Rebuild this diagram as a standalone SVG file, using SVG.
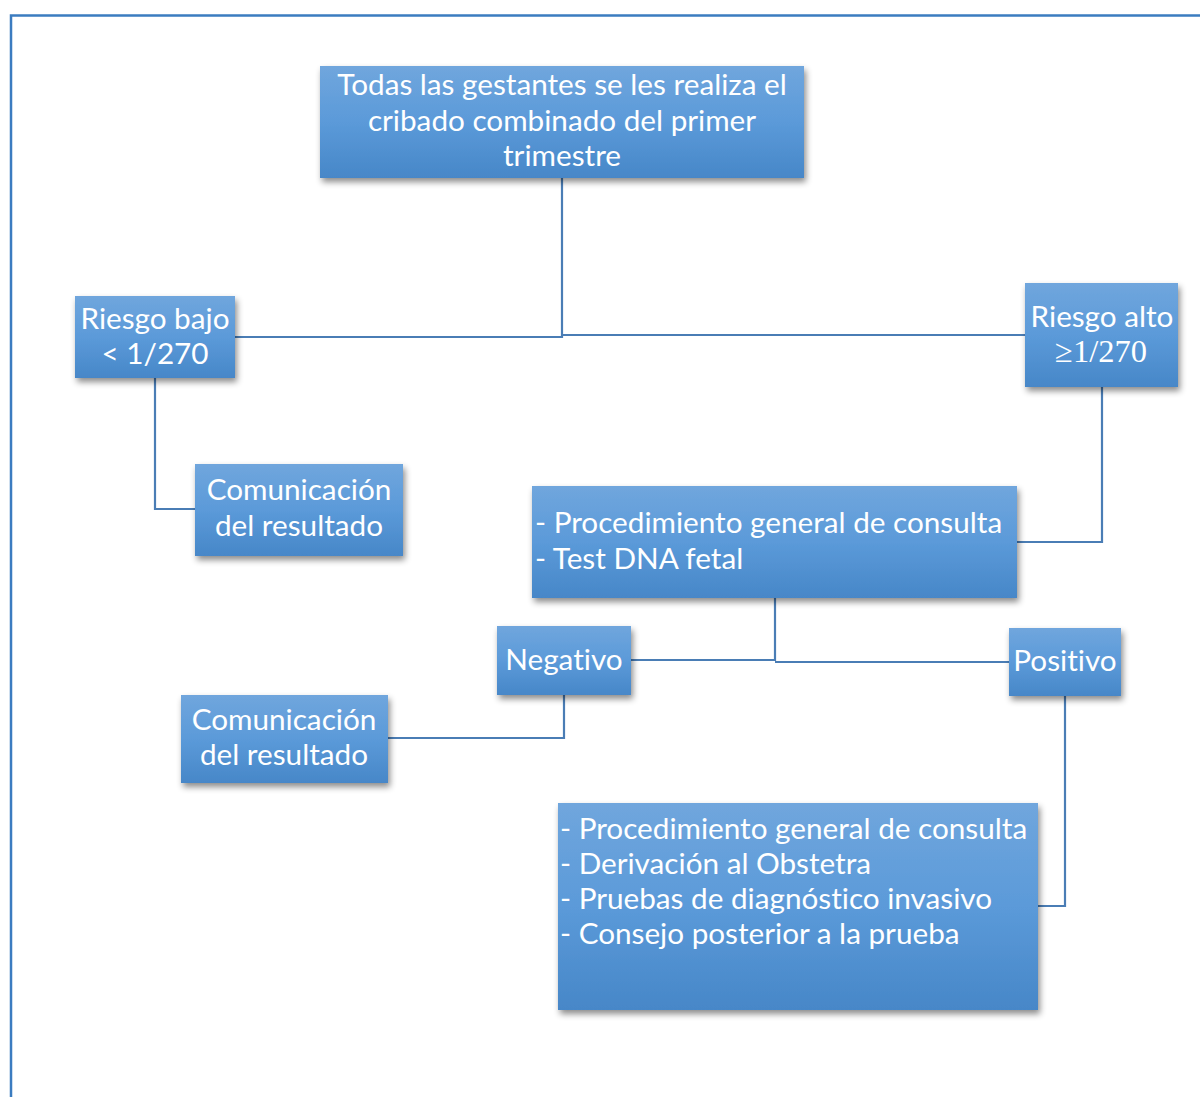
<svg xmlns="http://www.w3.org/2000/svg" width="1200" height="1097" viewBox="0 0 1200 1097">
<style>
.box{fill:url(#g);filter:url(#sh)}
.t{font-family:Lato,"Open Sans","Liberation Sans",sans-serif;font-size:29.7px;fill:#ffffff;font-variant-ligatures:none}
.s{font-family:"Liberation Serif","DejaVu Serif",serif;font-size:32.5px;fill:#ffffff}
.c{text-anchor:middle}
.ln{fill:none;stroke:#4a7db5;stroke-width:2.2}
</style>
<defs>
<linearGradient id="g" x1="0" y1="0" x2="0" y2="1">
<stop offset="0" stop-color="#70a6dd"/>
<stop offset="0.5" stop-color="#5b9ad9"/>
<stop offset="1" stop-color="#4787c8"/>
</linearGradient>
<filter id="sh" x="-10%" y="-10%" width="120%" height="130%">
<feDropShadow dx="2" dy="4" stdDeviation="3" flood-color="#000" flood-opacity="0.45"/>
</filter>
</defs>
<rect width="1200" height="1097" fill="#ffffff"/>
<path d="M11 1097 V15.5 H1200" fill="none" stroke="#3b7cc0" stroke-width="2.5"/>
<g id="connectors">
<polyline class="ln" points="235,337 562,337 562,178"/>
<polyline class="ln" points="562,335 1025,335"/>
<polyline class="ln" points="155,378 155,509 195,509"/>
<polyline class="ln" points="1102,387 1102,542 1017,542"/>
<polyline class="ln" points="631,660 775,660 775,598"/>
<polyline class="ln" points="775,662 1009,662"/>
<polyline class="ln" points="564,695 564,738 388,738"/>
<polyline class="ln" points="1065,696 1065,906 1038,906"/>
</g>
<g id="n-top">
<rect class="box" x="320" y="66" width="484" height="112"/>
<text class="t c" x="562" y="95">Todas las gestantes se les realiza el</text>
<text class="t c" x="562" y="131">cribado combinado del primer</text>
<text class="t c" x="562" y="166">trimestre</text>
</g>
<g id="n-bajo">
<rect class="box" x="75" y="296" width="160" height="82"/>
<text class="t c" x="155" y="329">Riesgo bajo</text>
<text class="t c" x="155" y="364">&lt; 1/270</text>
</g>
<g id="n-alto">
<rect class="box" x="1025" y="283" width="153" height="104"/>
<text class="t c" x="1102" y="327">Riesgo alto</text>
<text class="s c" x="1101" y="362">≥1/270</text>
</g>
<g id="n-com1">
<rect class="box" x="195" y="464" width="208" height="92"/>
<text class="t c" x="299" y="500">Comunicación</text>
<text class="t c" x="299" y="536">del resultado</text>
</g>
<g id="n-proc">
<rect class="box" x="532" y="486" width="485" height="112"/>
<text class="t" x="535" y="533">- Procedimiento general de consulta</text>
<text class="t" x="535" y="569">- Test DNA fetal</text>
</g>
<g id="n-neg">
<rect class="box" x="497" y="626" width="134" height="69"/>
<text class="t c" x="564" y="670">Negativo</text>
</g>
<g id="n-pos">
<rect class="box" x="1009" y="628" width="112" height="68"/>
<text class="t c" x="1065" y="671">Positivo</text>
</g>
<g id="n-com2">
<rect class="box" x="181" y="695" width="207" height="88"/>
<text class="t c" x="284" y="730">Comunicación</text>
<text class="t c" x="284" y="765">del resultado</text>
</g>
<g id="n-final">
<rect class="box" x="558" y="803" width="480" height="207"/>
<text class="t" x="560" y="839">- Procedimiento general de consulta</text>
<text class="t" x="560" y="874">- Derivación al Obstetra</text>
<text class="t" x="560" y="909">- Pruebas de diagnóstico invasivo</text>
<text class="t" x="560" y="944">- Consejo posterior a la prueba</text>
</g>
</svg>
